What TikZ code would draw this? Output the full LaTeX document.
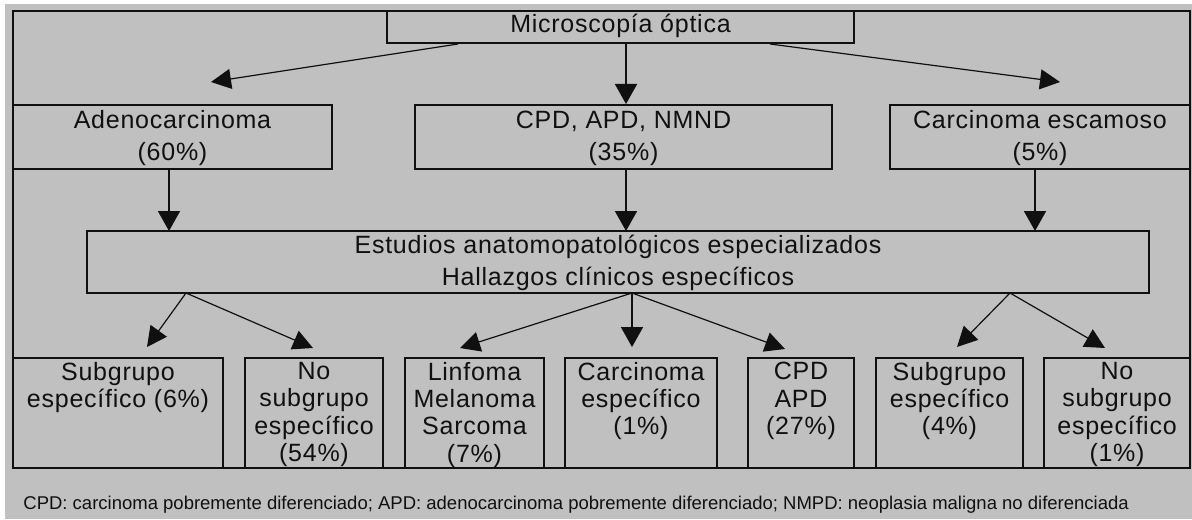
\documentclass[tikz,border=0pt]{standalone}
\usepackage{fontspec}
\setmainfont{Liberation Sans}[LetterSpace=3]
\newfontfamily\footfont{Liberation Sans}
\usetikzlibrary{arrows.meta}
\definecolor{bg}{HTML}{C0C0C0}
\definecolor{ink}{HTML}{101010}
\begin{document}
\begin{tikzpicture}[x=0.5pt,y=-0.5pt,
  bx/.style={draw=ink, line width=1pt, inner sep=0pt, fill=none},
  txt/.style={font=\fontsize{12.5}{16}\selectfont, align=center, text=ink, inner sep=0pt},
  stxt/.style={font=\fontsize{12.5}{13.6}\selectfont, align=center, text=ink, inner sep=0pt, anchor=north},
  arr/.style={draw=ink, line width=0.6pt, -{Triangle[length=10pt,width=10pt]}},
  varr/.style={draw=ink, line width=0.9pt, -{Triangle[length=10pt,width=11pt]}}]
\useasboundingbox (0,0) rectangle (1192,519);
\fill[white] (0,0) rectangle (1192,519);
\fill[bg] (5,4) rectangle (1192,519);
% outer frame
\draw[ink, line width=1pt] (13,11) rectangle (1190,468);
% level 1
\node[bx, minimum width=233.5pt, minimum height=16pt] (top) at (620.5,27) {};
\node[txt] (toptxt) at (620.5,26) {Microscopía óptica};
% level 2
\node[bx, minimum width=159.5pt, minimum height=32pt] (adeno) at (172.5,137) {};
\node[txt] (adenotxt) at (172.5,138) {Adenocarcinoma\\(60\%)};
\node[bx, minimum width=208.5pt, minimum height=32pt] (cpd) at (623.5,137) {};
\node[txt] (cpdtxt) at (623.5,138) {CPD, APD, NMND\\(35\%)};
\node[bx, minimum width=150pt, minimum height=32pt] (esc) at (1040,137) {};
\node[txt] (esctxt) at (1040,138) {Carcinoma escamoso\\(5\%)};
% level 3
\node[bx, minimum width=531pt, minimum height=31pt] (est) at (618,262) {};
\node[txt] (esttxt) at (618,263) {Estudios anatomopatológicos especializados\\Hallazgos clínicos específicos};
% level 4
\node[bx, minimum width=105pt, minimum height=55pt] (b1) at (118,413) {};
\node[stxt] (b1t) at (118,362) {Subgrupo\\específico (6\%)};
\node[bx, minimum width=69pt, minimum height=55pt] (b2) at (314,413) {};
\node[stxt] (b2t) at (314,362) {No\\subgrupo\\específico\\(54\%)};
\node[bx, minimum width=69.5pt, minimum height=55pt] (b3) at (474.5,413) {};
\node[stxt] (b3t) at (474.5,362) {Linfoma\\Melanoma\\Sarcoma\\(7\%)};
\node[bx, minimum width=76pt, minimum height=55pt] (b4) at (641,413) {};
\node[stxt] (b4t) at (641,362) {Carcinoma\\específico\\(1\%)};
\node[bx, minimum width=53pt, minimum height=55pt] (b5) at (801,413) {};
\node[stxt] (b5t) at (801,362) {CPD\\APD\\(27\%)};
\node[bx, minimum width=73.5pt, minimum height=55pt] (b6) at (949.5,413) {};
\node[stxt] (b6t) at (949.5,362) {Subgrupo\\específico\\(4\%)};
\node[bx, minimum width=73pt, minimum height=55pt] (b7) at (1117,413) {};
\node[stxt] (b7t) at (1117,362) {No\\subgrupo\\específico\\(1\%)};
% connector end points
\coordinate (s1) at (458,44);
\coordinate (t1) at (211,82);
\coordinate (s3) at (770,44);
\coordinate (t3) at (1060,82);
\coordinate (s2) at (626,44);
\coordinate (t2) at (626,104);
\coordinate (sa) at (169,169);
\coordinate (ta) at (169,231);
\coordinate (sc) at (626,169);
\coordinate (tc) at (626,231);
\coordinate (se) at (1035,169);
\coordinate (te) at (1035,231);
\coordinate (o1) at (186,293);
\coordinate (o2) at (632,293);
\coordinate (o3) at (1010,293);
\coordinate (u1) at (147,347);
\coordinate (u2) at (313,348);
\coordinate (u3) at (460,348);
\coordinate (u4) at (632,347);
\coordinate (u5) at (785,349);
\coordinate (u6) at (957,347);
\coordinate (u7) at (1105,348);
% connectors
\draw[arr] (s1) -- (t1);
\draw[varr] (s2) -- (t2);
\draw[arr] (s3) -- (t3);
\draw[varr] (sa) -- (ta);
\draw[varr] (sc) -- (tc);
\draw[varr] (se) -- (te);
\draw[arr] (o1) -- (u1);
\draw[arr] (o1) -- (u2);
\draw[arr] (o2) -- (u3);
\draw[varr] (o2) -- (u4);
\draw[arr] (o2) -- (u5);
\draw[arr] (o3) -- (u6);
\draw[arr] (o3) -- (u7);
% footnote
\node[font=\footfont\fontsize{9.25}{10}\selectfont, text=ink, inner sep=0pt, anchor=west] (foot) at (23,505) {CPD: carcinoma pobremente diferenciado; APD: adenocarcinoma pobremente diferenciado; NMPD: neoplasia maligna no diferenciada};
\end{tikzpicture}
\end{document}
